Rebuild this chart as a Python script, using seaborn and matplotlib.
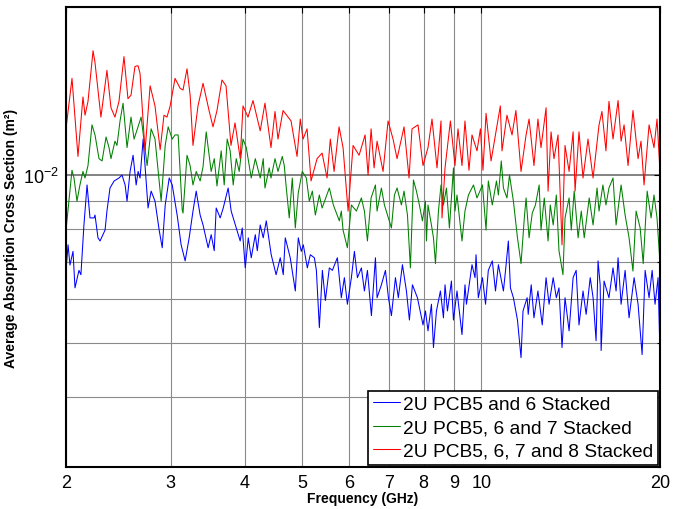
import numpy as np
import pandas as pd
import matplotlib
matplotlib.use("Agg")
import matplotlib.pyplot as plt
import matplotlib.ticker as mticker
import seaborn as sns

LABEL_56 = "2U PCB5 and 6 Stacked"
LABEL_567 = "2U PCB5, 6 and 7 Stacked"
LABEL_5678 = "2U PCB5, 6, 7 and 8 Stacked"

# frequency in GHz, absorption cross section in units of 1e-3 m^2
freq_56 = [
    2.000, 2.016, 2.031, 2.055, 2.071, 2.103, 2.119, 2.144, 2.170, 2.195,
    2.230, 2.238, 2.264, 2.282, 2.327, 2.344, 2.372, 2.410, 2.456, 2.485,
    2.515, 2.534, 2.564, 2.594, 2.625, 2.645, 2.665, 2.697, 2.717, 2.749,
    2.782, 2.824, 2.870, 2.904, 2.938, 2.984, 3.019, 3.077, 3.125, 3.174,
    3.224, 3.272, 3.313, 3.364, 3.402, 3.470, 3.511, 3.553, 3.580, 3.636,
    3.679, 3.750, 3.794, 3.869, 3.929, 3.960, 4.007, 4.054, 4.101, 4.166,
    4.198, 4.246, 4.296, 4.347, 4.431, 4.516, 4.589, 4.643, 4.679, 4.770,
    4.865, 4.921, 4.979, 5.018, 5.097, 5.156, 5.238, 5.279, 5.340, 5.403,
    5.466, 5.551, 5.616, 5.726, 5.815, 5.884, 5.953, 6.046, 6.117, 6.189,
    6.285, 6.359, 6.434, 6.534, 6.637, 6.679, 6.792, 6.899, 6.980, 7.061,
    7.172, 7.253, 7.369, 7.484, 7.571, 7.660, 7.810, 7.981, 8.057, 8.137,
    8.246, 8.311, 8.408, 8.538, 8.639, 8.692, 8.774, 8.910, 8.980, 9.105,
    9.283, 9.391, 9.445, 9.650, 9.764, 9.802, 9.889, 10.05, 10.17, 10.28,
    10.44, 10.57, 10.69, 10.90, 10.99, 11.11, 11.20, 11.33, 11.51, 11.67,
    11.76, 11.95, 12.00, 12.14, 12.27, 12.46, 12.67, 12.86, 13.01, 13.22,
    13.38, 13.52, 13.68, 13.84, 14.06, 14.28, 14.45, 14.61, 14.84, 15.02,
    15.26, 15.43, 15.61, 15.73, 15.86, 15.92, 16.10, 16.41, 16.67, 16.87,
    17.00, 17.20, 17.47, 17.74, 18.09, 18.37, 18.66, 18.88, 19.17, 19.40,
    19.62, 19.85, 20.00,
]
acs_56 = [
    6.75, 7.5, 6.9, 7.3, 6.28, 6.75, 6.63, 8.14, 9.6, 8.38,
    8.38, 8.48, 7.72, 7.62, 7.97, 8.62, 9.48, 9.76, 9.88, 10.0,
    9.6, 8.98, 10.15, 10.85, 9.6, 10.15, 9.88, 11.6, 10.4, 8.73,
    9.36, 8.98, 7.97, 7.41, 8.84, 9.88, 9.6, 8.48, 7.5, 7.02,
    7.72, 8.62, 9.36, 8.48, 8.14, 7.41, 7.82, 7.32, 8.73, 8.38,
    8.73, 9.48, 8.62, 8.04, 7.62, 8.04, 6.82, 7.72, 7.11, 7.82,
    7.32, 8.14, 7.72, 8.28, 7.2, 6.63, 7.11, 6.63, 7.72, 7.11,
    6.2, 7.72, 7.3, 7.5, 6.82, 7.2, 7.11, 6.75, 5.33, 6.75,
    5.96, 6.82, 6.75, 7.11, 6.03, 6.55, 5.87, 6.55, 7.3, 6.55,
    6.82, 6.2, 6.75, 5.6, 7.11, 6.03, 6.36, 6.75, 6.03, 5.6,
    6.55, 6.03, 6.91, 6.2, 5.5, 6.36, 6.03, 5.39, 5.71, 5.26,
    5.87, 4.91, 5.71, 6.2, 5.55, 6.36, 5.71, 6.46, 5.5, 6.2,
    5.18, 6.36, 5.87, 6.91, 6.55, 7.2, 6.03, 6.55, 5.87, 6.75,
    7.02, 6.2, 6.91, 6.2, 6.75, 7.62, 6.28, 6.03, 5.5, 4.71,
    5.71, 6.03, 5.63, 6.36, 5.55, 6.2, 5.39, 6.55, 5.87, 6.55,
    6.03, 6.28, 4.91, 6.03, 5.26, 6.55, 6.75, 5.39, 6.2, 5.63,
    6.55, 6.03, 5.05, 7.02, 6.36, 4.85, 6.46, 6.03, 6.82, 6.2,
    7.11, 5.87, 6.75, 5.55, 6.55, 5.87, 4.77, 6.75, 6.03, 6.75,
    5.87, 6.55, 4.77,
]

freq_567 = [
    2.000, 2.047, 2.063, 2.087, 2.111, 2.136, 2.153, 2.178, 2.212, 2.238,
    2.273, 2.300, 2.336, 2.363, 2.381, 2.418, 2.437, 2.466, 2.495, 2.534,
    2.573, 2.604, 2.676, 2.739, 2.782, 2.824, 2.892, 2.938, 2.972, 3.019,
    3.052, 3.089, 3.138, 3.148, 3.197, 3.236, 3.272, 3.313, 3.364, 3.402,
    3.444, 3.511, 3.553, 3.591, 3.650, 3.693, 3.736, 3.779, 3.824, 3.869,
    3.914, 3.972, 4.023, 4.101, 4.166, 4.246, 4.296, 4.325, 4.397, 4.427,
    4.497, 4.549, 4.625, 4.661, 4.698, 4.752, 4.808, 4.865, 4.921, 4.998,
    5.077, 5.136, 5.197, 5.258, 5.340, 5.397, 5.551, 5.638, 5.770, 5.815,
    5.854, 5.953, 6.046, 6.165, 6.285, 6.359, 6.434, 6.526, 6.637, 6.679,
    6.792, 6.872, 7.061, 7.144, 7.217, 7.340, 7.415, 7.514, 7.600, 7.690,
    7.780, 7.870, 7.963, 8.057, 8.088, 8.137, 8.246, 8.311, 8.376, 8.473,
    8.558, 8.639, 8.740, 8.841, 8.980, 9.034, 9.105, 9.283, 9.391, 9.518,
    9.705, 9.839, 10.05, 10.19, 10.28, 10.44, 10.61, 10.69, 10.81, 10.90,
    11.05, 11.16, 11.33, 11.51, 11.67, 11.82, 11.90, 12.04, 12.19, 12.34,
    12.52, 12.61, 12.77, 12.96, 13.07, 13.22, 13.38, 13.52, 13.73, 13.84,
    14.06, 14.18, 14.34, 14.56, 14.74, 14.91, 15.20, 15.43, 15.67, 15.79,
    16.03, 16.22, 16.41, 16.67, 16.87, 17.20, 17.47, 17.74, 18.01, 18.23,
    18.52, 18.74, 19.03, 19.32, 19.54, 19.77, 20.00,
]
acs_567 = [
    7.97, 10.2, 9.88, 8.98, 9.6, 10.15, 9.88, 10.4, 12.3, 11.8,
    10.7, 10.6, 11.7, 11.2, 10.7, 11.5, 11.3, 12.5, 13.45, 11.2,
    12.7, 11.6, 12.7, 10.4, 12.1, 11.6, 8.98, 11.3, 12.2, 11.6,
    11.8, 11.8, 8.66, 8.55, 10.85, 10.4, 9.6, 10.15, 9.76, 10.35,
    11.95, 10.15, 10.7, 9.56, 11.05, 9.6, 11.6, 11.05, 9.6, 10.7,
    10.15, 11.6, 11.2, 9.88, 10.7, 9.88, 10.7, 9.48, 10.3, 9.88,
    10.7, 10.15, 10.8, 10.4, 9.48, 8.38, 9.88, 8.04, 9.29, 10.15,
    9.88, 8.98, 9.36, 8.48, 9.21, 8.73, 9.48, 8.84, 8.28, 8.62,
    7.97, 7.41, 8.84, 8.62, 9.10, 8.62, 7.62, 9.10, 9.6, 8.62,
    9.48, 8.84, 8.04, 9.21, 9.48, 8.84, 9.36, 8.48, 6.82, 9.8,
    9.36, 8.84, 8.28, 8.98, 7.62, 8.84, 8.14, 7.72, 6.94, 8.62,
    9.6, 8.84, 9.48, 8.04, 10.3, 8.62, 9.21, 7.62, 8.62, 9.21,
    9.6, 9.10, 9.6, 7.97, 9.76, 8.84, 9.76, 9.21, 10.6, 9.48,
    9.10, 10.0, 8.98, 7.72, 6.94, 8.38, 9.10, 7.72, 8.55, 8.84,
    9.6, 7.97, 9.10, 7.62, 8.84, 8.14, 9.21, 7.32, 6.63, 8.38,
    9.10, 7.97, 9.36, 7.72, 8.62, 7.72, 9.10, 8.14, 9.48, 8.62,
    9.6, 8.84, 9.48, 9.88, 8.14, 9.6, 8.48, 7.72, 6.73, 8.62,
    8.04, 6.94, 9.36, 8.38, 9.21, 8.38, 6.94,
]

freq_5678 = [
    2.000, 2.047, 2.095, 2.136, 2.153, 2.178, 2.221, 2.238, 2.290, 2.344,
    2.381, 2.418, 2.456, 2.504, 2.543, 2.573, 2.613, 2.644, 2.665, 2.717,
    2.771, 2.824, 2.881, 2.924, 2.958, 2.995, 3.052, 3.113, 3.148, 3.197,
    3.236, 3.272, 3.336, 3.402, 3.482, 3.536, 3.591, 3.661, 3.719, 3.791,
    3.851, 3.929, 3.972, 4.050, 4.129, 4.246, 4.325, 4.427, 4.497, 4.549,
    4.639, 4.785, 4.898, 4.959, 5.013, 5.092, 5.171, 5.293, 5.397, 5.502,
    5.572, 5.654, 5.764, 5.854, 5.969, 6.086, 6.229, 6.376, 6.450, 6.526,
    6.602, 6.679, 6.836, 6.970, 7.106, 7.217, 7.415, 7.560, 7.648, 7.828,
    7.981, 8.137, 8.264, 8.426, 8.558, 8.591, 8.692, 8.875, 9.034, 9.140,
    9.283, 9.391, 9.538, 9.650, 9.839, 9.970, 10.07, 10.19, 10.39, 10.77,
    10.84, 11.05, 11.27, 11.44, 11.67, 11.90, 12.04, 12.27, 12.46, 12.61,
    12.86, 12.96, 13.11, 13.26, 13.47, 13.68, 13.84, 14.06, 14.28, 14.39,
    14.61, 14.84, 15.13, 15.43, 15.79, 15.97, 16.22, 16.41, 16.67, 17.00,
    17.20, 17.40, 17.67, 18.01, 18.37, 18.58, 18.80, 19.17, 19.54, 19.77,
    20.00,
]
acs_5678 = [
    12.1, 14.9, 10.8, 13.8, 12.8, 13.55, 16.7, 15.9, 12.7, 15.4,
    13.2, 12.7, 13.55, 16.3, 13.7, 13.9, 15.65, 15.7, 15.2, 11.05,
    14.45, 13.3, 11.1, 12.8, 12.7, 13.3, 14.9, 14.3, 14.2, 15.5,
    13.9, 11.3, 13.3, 14.6, 13.05, 12.2, 13.05, 14.8, 14.45, 11.3,
    12.4, 10.7, 13.3, 12.7, 13.6, 12.0, 13.45, 11.2, 13.0, 11.6,
    13.05, 12.5, 10.8, 12.6, 11.6, 12.1, 9.76, 10.7, 10.95, 9.88,
    11.6, 10.15, 12.2, 11.2, 8.62, 11.3, 10.85, 11.8, 10.0, 12.1,
    10.3, 11.5, 10.15, 12.5, 11.6, 10.7, 12.2, 9.88, 12.1, 12.3,
    10.4, 11.2, 12.6, 10.3, 12.5, 8.38, 10.3, 12.5, 10.4, 12.1,
    10.4, 12.5, 10.2, 11.8, 11.05, 12.1, 10.2, 12.9, 10.6, 13.3,
    11.05, 12.8, 11.8, 13.05, 10.15, 11.8, 12.6, 10.4, 12.6, 11.2,
    13.2, 9.36, 11.95, 10.7, 11.8, 7.5, 11.3, 10.15, 11.95, 9.36,
    11.95, 9.88, 11.6, 9.88, 12.3, 13.0, 11.05, 13.55, 11.6, 13.6,
    11.5, 12.3, 10.4, 13.05, 10.7, 11.5, 9.6, 12.3, 11.2, 12.6,
    10.15,
]

series = [
    (LABEL_56, freq_56, acs_56),
    (LABEL_567, freq_567, acs_567),
    (LABEL_5678, freq_5678, acs_5678),
]
frames = []
for label, freq, acs in series:
    frames.append(pd.DataFrame({
        "Frequency": freq,
        "ACS": np.array(acs) * 1e-3,
        "Configuration": label,
    }))
df = pd.concat(frames, ignore_index=True)

sns.set_style("white")
plt.rcParams["font.family"] = ["Liberation Sans", "DejaVu Sans"]
plt.rcParams.update({
    "axes.edgecolor": "black",
    "text.color": "black",
    "axes.labelcolor": "black",
    "xtick.color": "black",
    "ytick.color": "black",
})

fig = plt.figure(figsize=(6.82, 5.10), dpi=100)
ax = fig.add_axes([66 / 682, 42 / 510, 594 / 682, 460 / 510])

palette = {LABEL_56: "#0000ff", LABEL_567: "#008000", LABEL_5678: "#ff0000"}
sns.lineplot(data=df, x="Frequency", y="ACS", hue="Configuration", palette=palette,
             estimator=None, sort=False, linewidth=0.75, ax=ax)

ax.set_xscale("log")
ax.set_yscale("log")
ax.set_xlim(2, 20)
ax.set_ylim(3e-3, 2e-2)

ax.xaxis.set_major_locator(mticker.FixedLocator([2, 3, 4, 5, 6, 7, 8, 9, 10, 20]))
ax.xaxis.set_major_formatter(mticker.FuncFormatter(lambda v, _: f"{v:g}"))
ax.xaxis.set_minor_locator(mticker.NullLocator())

ax.yaxis.set_major_locator(mticker.FixedLocator([1e-2]))
ax.yaxis.set_major_formatter(mticker.LogFormatterSciNotation())
ax.yaxis.set_minor_locator(mticker.FixedLocator([3e-3, 4e-3, 5e-3, 6e-3, 7e-3, 8e-3, 9e-3, 2e-2]))
ax.yaxis.set_minor_formatter(mticker.NullFormatter())

ax.grid(True, which="major", axis="x", color="#8a8a8a", linewidth=0.8)
ax.grid(True, which="minor", axis="y", color="#8a8a8a", linewidth=0.8)
ax.grid(True, which="major", axis="y", color="#606060", linewidth=1.1)
ax.set_axisbelow(True)

ax.tick_params(which="both", direction="in", top=True, right=True, width=0.8, labelsize=13)
ax.tick_params(which="major", length=4, pad=5)
ax.tick_params(which="minor", length=2.5)
for sp in ax.spines.values():
    sp.set_visible(True)
    sp.set_color("black")
    sp.set_linewidth(1.5)

ax.set_xlabel("Frequency (GHz)", fontsize=10, fontweight="bold", labelpad=0)
ax.set_ylabel("Average Absorption Cross Section (m²)", fontsize=10, fontweight="bold", labelpad=4)

handles, labels = ax.get_legend_handles_labels()
leg = ax.legend(handles, labels, loc="lower right", fontsize=13.8, frameon=True, fancybox=False,
                edgecolor="black", framealpha=1, handlelength=1.4, handletextpad=0.15,
                labelspacing=0.32, borderpad=0.25, borderaxespad=0.12)
leg.get_frame().set_linewidth(1.2)

fig.savefig("out.png", dpi=100)
